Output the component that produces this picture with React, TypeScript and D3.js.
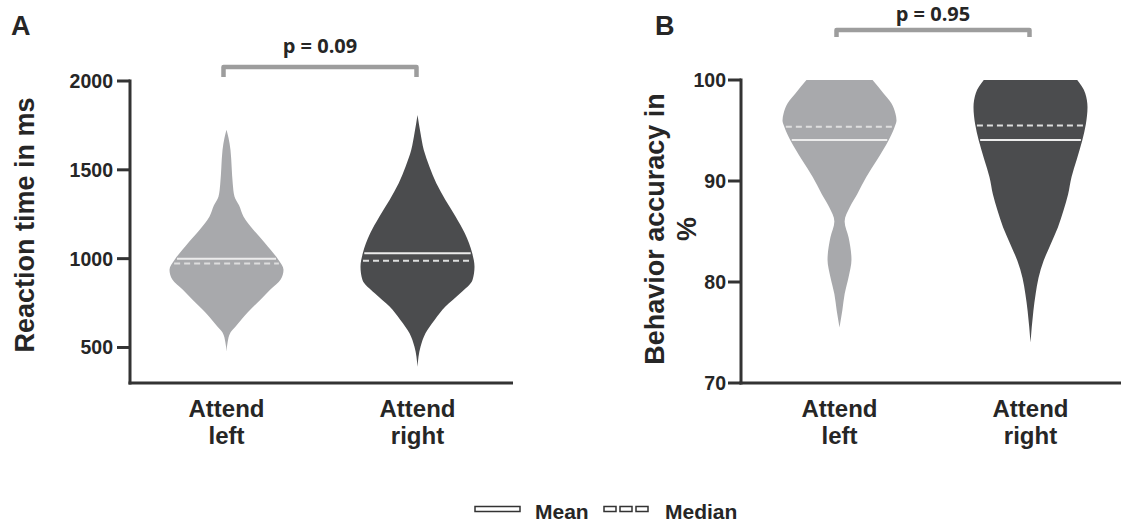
import React from "react";
import * as d3 from "d3";

// ---------- data ----------
const categories = ["Attend left", "Attend right"];
const rtTicks = [500, 1000, 1500, 2000];
const accTicks = [70, 80, 90, 100];

// Panel A: reaction time violins (value, relative density)
const rtLeftValues = [1725, 1680, 1612, 1517, 1420, 1350, 1300, 1236, 1163, 1090, 1051, 994, 938, 882, 826, 770, 697, 618, 584, 530, 478];
const rtLeftDensity = [0, 0.035, 0.07, 0.09, 0.11, 0.14, 0.22, 0.3, 0.47, 0.67, 0.77, 0.91, 1.0, 0.95, 0.77, 0.6, 0.37, 0.16, 0.07, 0.02, 0];
const rtRightValues = [1809, 1706, 1612, 1518, 1424, 1330, 1236, 1143, 1030, 955, 880, 805, 730, 655, 580, 504, 392];
const rtRightDensity = [0, 0.053, 0.11, 0.21, 0.33, 0.49, 0.67, 0.83, 0.96, 1.0, 0.965, 0.75, 0.49, 0.3, 0.14, 0.053, 0];
const rtMean = [1000, 1030];
const rtMedian = [972, 988];

// Panel B: accuracy violins
const accLeftValues = [100, 98.7, 97.7, 96.7, 96.0, 95.4, 94.0, 92.1, 90.4, 88.7, 87.4, 86.0, 84.4, 82.2, 80.5, 78.8, 77.2, 75.5];
const accLeftDensity = [0.58, 0.77, 0.91, 0.98, 1.0, 0.97, 0.86, 0.66, 0.47, 0.31, 0.18, 0.09, 0.16, 0.21, 0.16, 0.09, 0.05, 0];
const accRightValues = [100, 98.7, 97.3, 95.6, 94.05, 92.1, 90.4, 88.7, 87.1, 85.4, 83.7, 82.1, 80.4, 78.8, 77.1, 74.0];
const accRightDensity = [0.82, 0.96, 1.0, 0.97, 0.91, 0.81, 0.72, 0.66, 0.58, 0.48, 0.35, 0.23, 0.14, 0.09, 0.05, 0];
const accMean = [94.05, 94.05];
const accMedian = [95.37, 95.5];

const pValues = ["p = 0.09", "p = 0.95"];

const LIGHT = "#a8a9ac";
const DARK = "#4b4c4e";
const AXIS = "#333333";
const TEXT = "#262626";
const BRACKET = "#9d9d9d";
const SANS = "'Liberation Sans', Arial, sans-serif";
const PFONT = "'Open Sans', sans-serif";

type Violin = { values: number[]; dens: number[]; mean: number; median: number; fill: string };

function ViolinShape({ v, cx, y, w }: { v: Violin; cx: number; y: d3.ScaleLinear<number, number>; w: d3.ScaleLinear<number, number> }) {
  const pts = v.values.map((val, i) => ({ val, d: v.dens[i] }));
  const area = d3
    .area<{ val: number; d: number }>()
    .y((p) => y(p.val))
    .x0((p) => cx - w(p.d))
    .x1((p) => cx + w(p.d))
    .curve(d3.curveMonotoneY);
  const densAt = d3.scaleLinear<number, number>().domain(v.values).range(v.dens).clamp(true);
  const mw = w(densAt(v.mean)) - 1.5;
  const dw = w(densAt(v.median)) - 1.5;
  return (
    <g>
      <path d={area(pts) || ""} fill={v.fill} />
      <line x1={cx - mw} x2={cx + mw} y1={y(v.mean)} y2={y(v.mean)} stroke="#ececec" strokeWidth={2} />
      <line x1={cx - dw} x2={cx + dw} y1={y(v.median)} y2={y(v.median)} stroke="#dedede" strokeWidth={2} strokeDasharray="6,4" />
    </g>
  );
}

function Panel({
  letter, letterX, axisX, axisRight, y, ticks, tickLabelX, violins, xRange, pText, bracketTop, bracketBottom, pY, title,
}: any) {
  const x = d3.scalePoint<string>().domain(categories).range(xRange).padding(0.5);
  const w = d3.scaleLinear().domain([0, 1]).range([0, 57]);
  const [y0, y1] = y.range();
  const bx1 = (x(categories[0]) as number) - 3;
  const bx2 = (x(categories[1]) as number) - 1;
  return (
    <g>
      <text x={letterX} y={35} fontFamily={SANS} fontWeight={700} fontSize={27} fill={TEXT}>{letter}</text>
      {violins.map((v: Violin, i: number) => (
        <ViolinShape key={i} v={v} cx={x(categories[i]) as number} y={y} w={w} />
      ))}
      <line x1={axisX} x2={axisX} y1={y1 - 1.5} y2={y0 + 1.5} stroke={AXIS} strokeWidth={3} />
      <line x1={axisX - 1.5} x2={axisRight} y1={y0} y2={y0} stroke={AXIS} strokeWidth={3} />
      {ticks.map((t: number) => (
        <g key={t}>
          <line x1={axisX - 13} x2={axisX} y1={y(t)} y2={y(t)} stroke={AXIS} strokeWidth={3} />
          <text x={tickLabelX} y={y(t)} dy="0.36em" textAnchor="end" fontFamily={SANS} fontWeight={700} fontSize={19.5} fill={TEXT}>{t}</text>
        </g>
      ))}
      {categories.map((c) => {
        const [a, b] = c.split(" ");
        const cx = x(c) as number;
        return (
          <text key={c} x={cx} textAnchor="middle" fontFamily={SANS} fontWeight={700} fontSize={24} fill={TEXT}>
            <tspan x={cx} y={417}>{a}</tspan>
            <tspan x={cx} y={444}>{b}</tspan>
          </text>
        );
      })}
      <path d={`M${bx1},${bracketBottom} V${bracketTop} H${bx2} V${bracketBottom}`} fill="none" stroke={BRACKET} strokeWidth={4.5} strokeLinejoin="round" />
      <text x={(bx1 + bx2) / 2} y={pY} textAnchor="middle" fontFamily={PFONT} fontWeight={700} fontSize={20} fill={TEXT}>{pText}</text>
      {title}
    </g>
  );
}

export default function App() {
  const yA = d3.scaleLinear().domain([300, 2000]).range([383, 81]);
  const yB = d3.scaleLinear().domain([70, 100]).range([383, 80]);

  const violinsA: Violin[] = [
    { values: rtLeftValues, dens: rtLeftDensity, mean: rtMean[0], median: rtMedian[0], fill: LIGHT },
    { values: rtRightValues, dens: rtRightDensity, mean: rtMean[1], median: rtMedian[1], fill: DARK },
  ];
  const violinsB: Violin[] = [
    { values: accLeftValues, dens: accLeftDensity, mean: accMean[0], median: accMedian[0], fill: LIGHT },
    { values: accRightValues, dens: accRightDensity, mean: accMean[1], median: accMedian[1], fill: DARK },
  ];

  return (
    <div style={{ position: "absolute", left: 0, top: 0 }}>
      <svg width={1121} height={524} viewBox="0 0 1121 524" style={{ display: "block", background: "#fff" }}>
        <rect width={1121} height={524} fill="#fff" />
        <Panel
          letter="A" letterX={11} axisX={130} axisRight={513} y={yA} ticks={rtTicks} tickLabelX={113}
          violins={violinsA} xRange={[131, 513]} pText={pValues[0]} bracketTop={67} bracketBottom={77} pY={53}
          title={
            <text transform="translate(34,225) rotate(-90)" textAnchor="middle" fontFamily={SANS} fontWeight={700} fontSize={27} fill={TEXT}>
              Reaction time in ms
            </text>
          }
        />
        <Panel
          letter="B" letterX={655} axisX={741} axisRight={1121} y={yB} ticks={accTicks} tickLabelX={726}
          violins={violinsB} xRange={[744, 1126]} pText={pValues[1]} bracketTop={30} bracketBottom={37} pY={21}
          title={
            <text transform="translate(664,229) rotate(-90)" textAnchor="middle" fontFamily={SANS} fontWeight={700} fontSize={27} fill={TEXT}>
              <tspan x={0} y={0}>Behavior accuracy in</tspan>
              <tspan x={0} y={32}>%</tspan>
            </text>
          }
        />
        <g>
          <rect x={475} y={506.5} width={45} height={5} fill="#fff" stroke={AXIS} strokeWidth={1.5} />
          <text x={535} y={519} fontFamily={SANS} fontWeight={700} fontSize={21} fill={TEXT}>Mean</text>
          {[0, 1, 2].map((i) => (
            <rect key={i} x={604 + i * 16} y={506.5} width={12} height={5} fill="#fff" stroke={AXIS} strokeWidth={1.5} />
          ))}
          <text x={665} y={519} fontFamily={SANS} fontWeight={700} fontSize={21} fill={TEXT}>Median</text>
        </g>
      </svg>
    </div>
  );
}
